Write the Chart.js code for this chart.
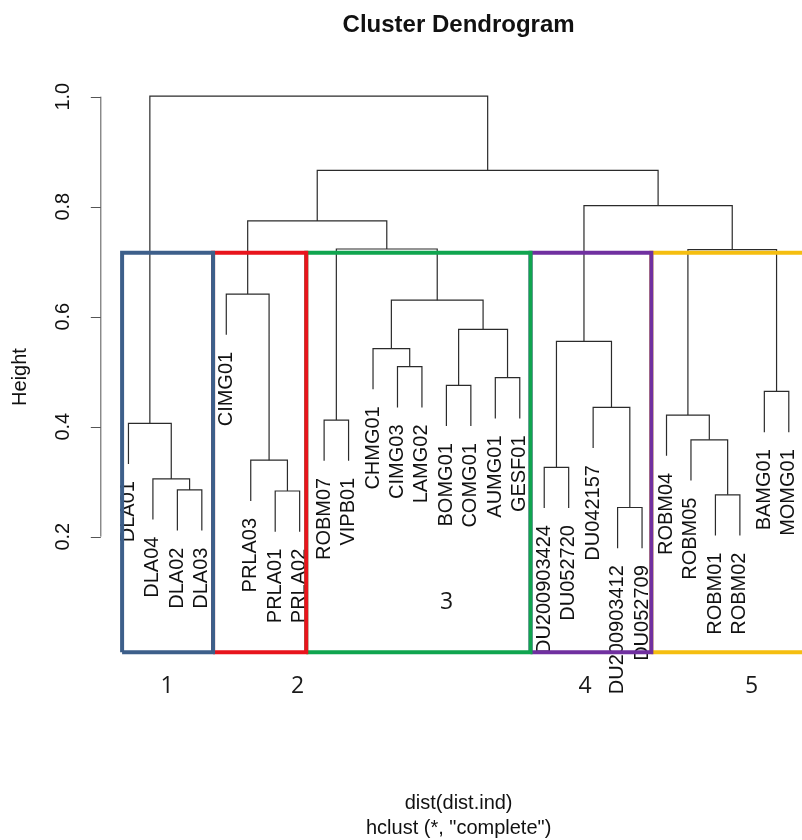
<!DOCTYPE html>
<html>
<head>
<meta charset="utf-8">
<title>Cluster Dendrogram</title>
<script src="https://cdn.jsdelivr.net/npm/chart.js@4.4.1/dist/chart.umd.min.js"></script>
<style>
  html, body { margin: 0; padding: 0; background: #fff; }
  #wrap { width: 802px; height: 840px; }
</style>
</head>
<body>
<div id="wrap"><canvas id="dendro" width="802" height="840"></canvas></div>
<script>
// leaves in plotting order
const leafLabels = ['DLA01', 'DLA04', 'DLA02', 'DLA03', 'CIMG01', 'PRLA03', 'PRLA01', 'PRLA02',
  'ROBM07', 'VIPB01', 'CHMG01', 'CIMG03', 'LAMG02', 'BOMG01', 'COMG01', 'AUMG01', 'GESF01',
  'DU200903424', 'DU052720', 'DU042157', 'DU200903412', 'DU052709',
  'ROBM04', 'ROBM05', 'ROBM01', 'ROBM02', 'BAMG01', 'MOMG01'];

// merge table like hclust: negative = leaf number, positive = earlier merge (1-based)
const mergeLeft  = [-3, -2, -1, -7, -6, -5, -9, -12, -11, -14, -16, 10, 9, 7, 6, -18, -21, -20, 16, -25, -24, -23, -27, 22, 19, 15, 3];
const mergeRight = [-4, 1, 2, -8, 4, 5, -10, -13, 8, -15, -17, 11, 12, 13, 14, -19, -22, 17, 18, -26, 20, 21, -28, 23, 24, 25, 26];
const mergeHeight = [0.285, 0.305, 0.406, 0.283, 0.339, 0.641, 0.412, 0.509, 0.542, 0.475, 0.489, 0.577,
  0.630, 0.723, 0.774, 0.326, 0.253, 0.435, 0.555, 0.276, 0.376, 0.421, 0.464, 0.722, 0.802, 0.866, 1.001];
const hang = 0.074;

const yTicks = [0.2, 0.4, 0.6, 0.8, 1.0];
const yTickLabels = ['0.2', '0.4', '0.6', '0.8', '1.0'];

// boxes drawn round the 5 groups
const clusterNames = ['1', '2', '3', '4', '5'];
const clusterEdges = [0.74, 4.46, 8.27, 17.44, 22.38, 29.3];
const clusterTop = 0.716;
const clusterBottom = -0.01;
const clusterColors = ['#3d5f8a', '#e8141c', '#10a54f', '#7030a0', '#f5be10'];

// where the group numbers sit (data units)
const numberPos = [[2.58, -0.073], [7.92, -0.073], [14.01, 0.081], [19.67, -0.073], [26.48, -0.073]];

// work out x position / top of every node
const nodeX = [];
function childX(c) { return c < 0 ? -c : nodeX[c - 1]; }
mergeLeft.forEach((l, i) => {
  nodeX.push((childX(l) + childX(mergeRight[i])) / 2);
});
function childBottom(c, h) { return c < 0 ? h - hang : mergeHeight[c - 1]; }

const leafEnd = [];
const datasets = [];

mergeLeft.forEach((l, i) => {
  const r = mergeRight[i];
  const h = mergeHeight[i];
  [l, r].forEach(c => { if (c < 0) leafEnd[-c - 1] = h - hang; });
  datasets.push({
    data: [
      { x: childX(l), y: childBottom(l, h) },
      { x: childX(l), y: h },
      { x: childX(r), y: h },
      { x: childX(r), y: childBottom(r, h) }
    ],
    borderColor: '#2b2b2b',
    borderWidth: 1.2,
    order: 1
  });
});

clusterNames.forEach((name, i) => {
  const a = clusterEdges[i], b = clusterEdges[i + 1];
  datasets.push({
    label: 'cluster ' + name,
    data: [
      { x: a, y: clusterBottom }, { x: a, y: clusterTop },
      { x: b, y: clusterTop }, { x: b, y: clusterBottom }, { x: a, y: clusterBottom }
    ],
    borderColor: clusterColors[i],
    borderWidth: 4,
    borderJoinStyle: 'miter',
    order: 0
  });
});

const FONT = "'Liberation Sans', Arial, sans-serif";

const dendroText = {
  id: 'dendroText',
  beforeDatasetsDraw(chart) {
    const { ctx, scales: { x, y } } = chart;
    ctx.save();
    ctx.fillStyle = '#111';
    ctx.font = '20px ' + FONT;
    ctx.textAlign = 'right';
    ctx.textBaseline = 'middle';
    leafLabels.forEach((lab, i) => {
      ctx.save();
      ctx.translate(x.getPixelForValue(i + 1), y.getPixelForValue(leafEnd[i]) + 17);
      ctx.rotate(-Math.PI / 2);
      ctx.fillText(lab, 0, 0);
      ctx.restore();
    });
    ctx.restore();
  },
  afterDraw(chart) {
    const { ctx, scales: { x, y } } = chart;
    const cx = x.getPixelForValue((1 + leafLabels.length) / 2);
    ctx.save();
    ctx.fillStyle = '#111';
    ctx.textAlign = 'center';
    ctx.textBaseline = 'middle';

    ctx.font = 'bold 24px ' + FONT;
    ctx.fillText('Cluster Dendrogram', cx, 25);

    ctx.font = '20px ' + FONT;
    ctx.fillText('dist(dist.ind)', cx, 803);
    ctx.fillText('hclust (*, "complete")', cx, 828);

    // y axis, R style
    const ax = x.getPixelForValue(-0.13);
    ctx.strokeStyle = '#555';
    ctx.lineWidth = 1;
    ctx.beginPath();
    ctx.moveTo(ax, y.getPixelForValue(yTicks[0]));
    ctx.lineTo(ax, y.getPixelForValue(yTicks[yTicks.length - 1]));
    yTicks.forEach(t => {
      const py = Math.round(y.getPixelForValue(t)) + 0.5;
      ctx.moveTo(ax, py);
      ctx.lineTo(ax - 10, py);
    });
    ctx.stroke();

    yTicks.forEach((t, i) => {
      ctx.save();
      ctx.translate(63, y.getPixelForValue(t));
      ctx.rotate(-Math.PI / 2);
      ctx.fillText(yTickLabels[i], 0, 0);
      ctx.restore();
    });
    ctx.save();
    ctx.translate(20, 377);
    ctx.rotate(-Math.PI / 2);
    ctx.fillText('Height', 0, 0);
    ctx.restore();

    // group numbers
    ctx.font = "23px 'Open Sans', Lato, sans-serif";
    ctx.fillStyle = '#1a1a1a';
    clusterNames.forEach((name, i) => {
      ctx.fillText(name, x.getPixelForValue(numberPos[i][0]), y.getPixelForValue(numberPos[i][1]));
    });
    ctx.restore();
  }
};

new Chart(document.getElementById('dendro').getContext('2d'), {
  type: 'line',
  data: { datasets: datasets },
  options: {
    responsive: false,
    animation: false,
    events: [],
    layout: { padding: { left: 104, right: 0, top: 70, bottom: 160 } },
    elements: {
      point: { radius: 0 },
      line: { tension: 0, fill: false }
    },
    scales: {
      x: { type: 'linear', min: 0, max: 28.54, display: false },
      y: { type: 'linear', min: -0.0606, max: 1.0485, display: false }
    },
    plugins: {
      legend: { display: false },
      tooltip: { enabled: false },
      title: { display: false }
    }
  },
  plugins: [dendroText]
});
</script>
</body>
</html>
